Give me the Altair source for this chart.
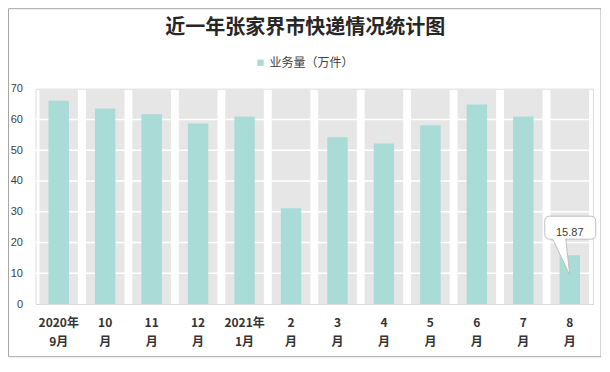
import altair as alt
import pandas as pd

# ---- data ----
categories = ["2020年|9月", "10|月", "11|月", "12|月", "2021年|1月", "2|月",
              "3|月", "4|月", "5|月", "6|月", "7|月", "8|月"]
values = [66.1, 63.6, 61.7, 58.7, 61.0, 31.1, 54.2, 52.2, 58.1, 64.9, 61.0, 15.87]
y_ticks = [0, 10, 20, 30, 40, 50, 60, 70]
grid_values = [10, 20, 30, 40, 50, 60]
series_name = "业务量（万件）"
title_text = "近一年张家界市快递情况统计图"
callout_month = "8|月"
callout_value = 15.87

df = pd.DataFrame({"month": categories, "value": values, "series": series_name})
df["top"] = y_ticks[-1]
grid_df = pd.DataFrame({"g": grid_values})
callout_df = pd.DataFrame({"month": [callout_month], "value": [callout_value],
                           "label": [f"{callout_value:.2f}"]})

FONT_CJK = "Noto Sans CJK SC"
TEAL = "#a9dbd7"

x_enc = alt.X(
    "month:N", sort=categories,
    scale=alt.Scale(paddingInner=0, paddingOuter=0),
    axis=alt.Axis(title=None, labelExpr="split(datum.value, '|')", labelAngle=0,
                  labelFontWeight="bold", labelFontSize=12, labelFont=FONT_CJK,
                  labelColor="#333333", labelLineHeight=19, labelPadding=13,
                  ticks=False, domainColor="#d9d9d9", domainWidth=1, grid=False),
)
y_scale = alt.Scale(domain=[0, 70], nice=False)
y_axis = alt.Axis(title=None, values=y_ticks, grid=False, ticks=False, domain=False,
                  labelPadding=13, labelFont="Liberation Sans", labelFontSize=11,
                  labelColor="#404040")

bg = alt.Chart(df).mark_bar(color="#e6e6e6", width=alt.RelativeBandSize(0.83)).encode(
    x=x_enc, y=alt.Y("top:Q", scale=y_scale, axis=y_axis)
)

grid = alt.Chart(grid_df).mark_rule(color="white", strokeWidth=1.6).encode(
    y=alt.Y("g:Q", scale=y_scale, axis=y_axis)
)

bars = alt.Chart(df).mark_bar(width=alt.RelativeBandSize(0.44)).encode(
    x=x_enc,
    y=alt.Y("value:Q", scale=y_scale, axis=y_axis),
    color=alt.Color("series:N", scale=alt.Scale(range=[TEAL]),
                    legend=alt.Legend(title=None, orient="none", legendX=219, legendY=-32,
                                      symbolType="square", symbolSize=40, symbolStrokeWidth=0,
                                      labelFont=FONT_CJK, labelFontSize=12, labelColor="#404040",
                                      padding=0, labelOffset=3)),
)

callout_path = ("M -20,-39 L 21,-39 Q 26,-39 26,-34 L 26,-21 Q 26,-16 21,-16 "
                "L -4,-16 L 0,20 L -17,-16 L -20,-16 Q -25,-16 -25,-21 "
                "L -25,-34 Q -25,-39 -20,-39 Z")
callout_box = alt.Chart(callout_df).mark_point(
    shape=callout_path, size=4, filled=True, fill="white", stroke="#bfbfbf",
    strokeWidth=1, opacity=1, fillOpacity=1, strokeOpacity=1
).encode(x=x_enc, y=alt.Y("value:Q", scale=y_scale, axis=y_axis))

callout_text = alt.Chart(callout_df).mark_text(
    dy=-22, fontSize=11, font="Liberation Sans", color="#404040"
).encode(x=x_enc, y=alt.Y("value:Q", scale=y_scale, axis=y_axis), text="label:N")

border = alt.Chart(callout_df).mark_rect(
    fillOpacity=0, stroke="#a6a6a6", strokeWidth=1
).encode(x=alt.value(-27), x2=alt.value(565.5), y=alt.value(-80), y2=alt.value(268))

chart = alt.layer(border, bg, grid, bars, callout_box, callout_text).properties(
    width=557.5, height=215.3,
    title=alt.TitleParams(title_text, font=FONT_CJK, fontSize=20, fontWeight="bold",
                          color="#262626", anchor="middle", baseline="alphabetic",
                          offset=-46, dx=-9),
    autosize=alt.AutoSizeParams(type="none"),
    padding={"left": 27.5, "top": 80.7, "right": 8, "bottom": 54},
).configure_view(stroke=None).configure(background="white")

chart.save("out.html", embed_options={"renderer": "svg", "actions": False})
